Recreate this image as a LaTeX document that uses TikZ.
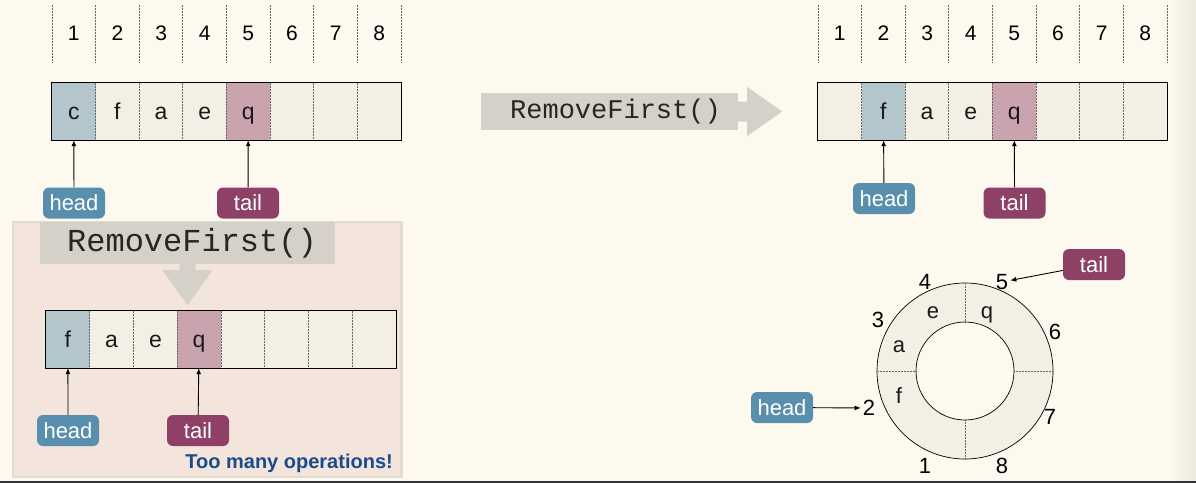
\documentclass[tikz,border=0pt]{standalone}
\usepackage{fontspec}
\setmainfont{Liberation Sans}
\setmonofont{Liberation Mono}
\usetikzlibrary{arrows.meta}

\definecolor{bgcream}{RGB}{253,249,239}
\definecolor{bgedge}{RGB}{238,233,222}
\definecolor{cellgray}{RGB}{243,239,229}
\definecolor{cellblue}{RGB}{178,198,204}
\definecolor{cellpink}{RGB}{201,164,174}
\definecolor{headblue}{RGB}{88,143,172}
\definecolor{tailplum}{RGB}{142,64,102}
\definecolor{boxpink}{RGB}{243,228,220}
\definecolor{boxline}{RGB}{226,220,212}
\definecolor{bannergray}{RGB}{213,209,200}
\definecolor{opblue}{RGB}{26,76,138}

\begin{document}
\begin{tikzpicture}
[every node/.style={inner sep=0pt},
 cell/.style={rectangle, minimum width=43.7pt, minimum height=57pt, fill=cellgray, text=black!90, text height=15pt, text depth=0pt, font=\fontsize{23}{23}\selectfont},
 idx/.style={rectangle, minimum width=43.6pt, minimum height=57pt, font=\fontsize{21}{21}\selectfont},
 sep/.style={densely dotted, draw=black!60, line width=0.5pt},
 frame/.style={draw=black, line width=0.8pt},
 tag/.style={rectangle, rounded corners=6pt, minimum width=62pt, minimum height=31pt, text=white, font=\fontsize{22}{22}\selectfont},
 headtag/.style={tag, fill=headblue},
 tailtag/.style={tag, fill=tailplum},
 banner/.style={rectangle, fill=bannergray, text=black!85},
 ptr/.style={-{Latex[length=6pt,width=5pt]}, line width=0.9pt, color=black},
 ringnum/.style={inner sep=2pt, font=\fontsize{22}{22}\selectfont},
 ringval/.style={font=\fontsize{22}{22}\selectfont, text=black!90}]
% background and page edges
\fill[bgcream] (0pt,0pt) rectangle (1196pt,-483pt);
\useasboundingbox (0pt,0pt) rectangle (1196pt,-483pt);
\shade[left color=bgcream, right color=bgedge] (1168pt,0pt) rectangle (1196pt,-481pt);
\fill[black!80] (0pt,-480.5pt) rectangle (1196pt,-483pt);

% top left: index row
\node (ia1) [idx] at (73.8pt, -33.5pt) {1};
\node (ia2) [idx] at (117.4pt, -33.5pt) {2};
\node (ia3) [idx] at (161.1pt, -33.5pt) {3};
\node (ia4) [idx] at (204.7pt, -33.5pt) {4};
\node (ia5) [idx] at (248.3pt, -33.5pt) {5};
\node (ia6) [idx] at (291.9pt, -33.5pt) {6};
\node (ia7) [idx] at (335.6pt, -33.5pt) {7};
\node (ia8) [idx] at (379.2pt, -33.5pt) {8};
\draw [sep] (ia1.north west) -- (ia1.south west) (ia2.north west) -- (ia2.south west) (ia3.north west) -- (ia3.south west) (ia4.north west) -- (ia4.south west) (ia5.north west) -- (ia5.south west) (ia6.north west) -- (ia6.south west) (ia7.north west) -- (ia7.south west) (ia8.north west) -- (ia8.south west) (ia8.north east) -- (ia8.south east);

% top left: array
\node (a1) [cell, fill=cellblue] at (73.8pt, -111.5pt) {c};
\node (a2) [cell] at (117.4pt, -111.5pt) {f};
\node (a3) [cell] at (161.1pt, -111.5pt) {a};
\node (a4) [cell] at (204.7pt, -111.5pt) {e};
\node (a5) [cell, fill=cellpink] at (248.3pt, -111.5pt) {q};
\node (a6) [cell] at (291.9pt, -111.5pt) {};
\node (a7) [cell] at (335.6pt, -111.5pt) {};
\node (a8) [cell] at (379.2pt, -111.5pt) {};
\draw [sep] (a2.north west) -- (a2.south west) (a3.north west) -- (a3.south west) (a4.north west) -- (a4.south west) (a5.north west) -- (a5.south west) (a6.north west) -- (a6.south west) (a7.north west) -- (a7.south west) (a8.north west) -- (a8.south west);
\draw [frame] (a1.north west) rectangle (a8.south east);
\node (heada) [headtag] at (74pt, -203pt) {head};
\node (taila) [tailtag] at (248pt, -203pt) {tail};
\draw [ptr] (heada) -- (a1);
\draw [ptr] (taila) -- (a5);

% operation arrow
\node (rfa) [banner, minimum width=257pt, minimum height=37pt, font=\fontsize{27}{27}\ttfamily] at (609.5pt, -111.5pt) {\hspace*{12pt}RemoveFirst()};
\fill [bannergray] ([yshift=10pt]rfa.east) -- ++(9pt,0) -- ++(0,14.5pt) -- ++(35pt,-24.5pt) -- ++(-35pt,-24.5pt) -- ++(0,14.5pt) -- ++(-9pt,0) -- cycle;

% top right: index row
\node (ib1) [idx] at (839.8pt, -33.5pt) {1};
\node (ib2) [idx] at (883.4pt, -33.5pt) {2};
\node (ib3) [idx] at (927.1pt, -33.5pt) {3};
\node (ib4) [idx] at (970.7pt, -33.5pt) {4};
\node (ib5) [idx] at (1014.3pt, -33.5pt) {5};
\node (ib6) [idx] at (1057.9pt, -33.5pt) {6};
\node (ib7) [idx] at (1101.6pt, -33.5pt) {7};
\node (ib8) [idx] at (1145.2pt, -33.5pt) {8};
\draw [sep] (ib1.north west) -- (ib1.south west) (ib2.north west) -- (ib2.south west) (ib3.north west) -- (ib3.south west) (ib4.north west) -- (ib4.south west) (ib5.north west) -- (ib5.south west) (ib6.north west) -- (ib6.south west) (ib7.north west) -- (ib7.south west) (ib8.north west) -- (ib8.south west) (ib8.north east) -- (ib8.south east);

% top right: array
\node (b1) [cell] at (839.8pt, -111.5pt) {};
\node (b2) [cell, fill=cellblue] at (883.4pt, -111.5pt) {f};
\node (b3) [cell] at (927.1pt, -111.5pt) {a};
\node (b4) [cell] at (970.7pt, -111.5pt) {e};
\node (b5) [cell, fill=cellpink] at (1014.3pt, -111.5pt) {q};
\node (b6) [cell] at (1057.9pt, -111.5pt) {};
\node (b7) [cell] at (1101.6pt, -111.5pt) {};
\node (b8) [cell] at (1145.2pt, -111.5pt) {};
\draw [sep] (b2.north west) -- (b2.south west) (b3.north west) -- (b3.south west) (b4.north west) -- (b4.south west) (b5.north west) -- (b5.south west) (b6.north west) -- (b6.south west) (b7.north west) -- (b7.south west) (b8.north west) -- (b8.south west);
\draw [frame] (b1.north west) rectangle (b8.south east);
\node (headb) [headtag] at (884pt, -198.5pt) {head};
\node (tailb) [tailtag] at (1014.5pt, -203pt) {tail};
\draw [ptr] (headb) -- (b2);
\draw [ptr] (tailb) -- (b5);

% bottom left: shifting every element
\draw [line width=2.5pt, draw=boxline, fill=boxpink] (13pt,-222pt) rectangle (401.5pt,-477pt);
\node (rfc) [banner, minimum width=295pt, minimum height=42pt, font=\fontsize{32}{32}\ttfamily] at (187.5pt, -243pt) {\hspace*{9pt}RemoveFirst()};
\fill [bannergray] ([xshift=-8pt]rfc.south) -- ++(0,-6pt) -- ++(-17pt,0) -- ++(25pt,-35pt) -- ++(25pt,35pt) -- ++(-17pt,0) -- ++(0,6pt) -- cycle;
\node (c1) [cell, fill=cellblue] at (67.9pt, -339.5pt) {f};
\node (c2) [cell] at (111.6pt, -339.5pt) {a};
\node (c3) [cell] at (155.4pt, -339.5pt) {e};
\node (c4) [cell, fill=cellpink] at (199.1pt, -339.5pt) {q};
\node (c5) [cell] at (242.9pt, -339.5pt) {};
\node (c6) [cell] at (286.6pt, -339.5pt) {};
\node (c7) [cell] at (330.4pt, -339.5pt) {};
\node (c8) [cell] at (374.1pt, -339.5pt) {};
\draw [sep] (c2.north west) -- (c2.south west) (c3.north west) -- (c3.south west) (c4.north west) -- (c4.south west) (c5.north west) -- (c5.south west) (c6.north west) -- (c6.south west) (c7.north west) -- (c7.south west) (c8.north west) -- (c8.south west);
\draw [frame] (c1.north west) rectangle (c8.south east);
\node (headc) [headtag] at (68pt, -430.5pt) {head};
\node (tailc) [tailtag] at (198pt, -430.5pt) {tail};
\draw [ptr] (headc) -- (c1);
\draw [ptr] (tailc) -- (c4);
\node (note) [anchor=east, text=opblue, font=\fontsize{20}{20}\bfseries] at (393pt, -463pt) {Too many operations!};

% bottom right: circular buffer
\coordinate (ring) at (965pt, -371pt);
\fill [cellgray, even odd rule] (ring) circle [radius=88pt] (ring) circle [radius=49pt];
\draw [sep] ([xshift=49pt]ring) -- ([xshift=88pt]ring) ([xshift=-49pt]ring) -- ([xshift=-88pt]ring) ([yshift=49pt]ring) -- ([yshift=88pt]ring) ([yshift=-49pt]ring) -- ([yshift=-88pt]ring);
\draw [frame, line width=0.7pt] (ring) circle [radius=88pt] (ring) circle [radius=49pt];
\node (n1) [ringnum] at (925pt, -466pt) {1};
\node (n2) [ringnum] at (869pt, -408pt) {2};
\node (n3) [ringnum] at (878pt, -320pt) {3};
\node (n4) [ringnum] at (925pt, -282pt) {4};
\node (n5) [ringnum] at (1002pt, -282pt) {5};
\node (n6) [ringnum] at (1055pt, -332pt) {6};
\node (n7) [ringnum] at (1050pt, -417pt) {7};
\node (n8) [ringnum] at (1002pt, -466pt) {8};
\node (rf) [ringval] at (899pt, -396pt) {f};
\node (ra) [ringval] at (899pt, -347pt) {a};
\node (re) [ringval] at (933pt, -313pt) {e};
\node (rq) [ringval] at (987pt, -315pt) {q};
\node (headr) [headtag] at (782pt, -407.5pt) {head};
\node (tailr) [tailtag] at (1094pt, -264.5pt) {tail};
\draw [ptr] (headr) -- (n2);
\draw [ptr] (tailr) -- (n5);
\end{tikzpicture}
\end{document}
